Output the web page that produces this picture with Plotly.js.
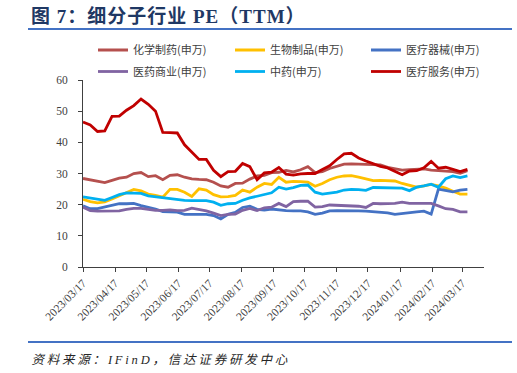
<!DOCTYPE html>
<html><head><meta charset="utf-8">
<script src="https://cdn.plot.ly/plotly-3.0.1.min.js"></script>
<style>
html,body{margin:0;padding:0;background:#fff}
#wrap{position:relative;width:517px;height:373px}
#chart{width:517px;height:373px}
#chart .gtitle{letter-spacing:1px}
#chart .annotation-text{letter-spacing:2.8px}
.rule{position:absolute;left:28px;width:484px;height:2px;background:#4472C4;z-index:5}
</style>
</head><body><div id="wrap"><div id="chart"></div><div class="rule" style="top:27.5px"></div><div class="rule" style="top:341px"></div></div>
<script>
const dates = ["2023-03-17","2023-03-24","2023-03-31","2023-04-07","2023-04-14","2023-04-21","2023-04-28","2023-05-05","2023-05-12","2023-05-19","2023-05-26","2023-06-02","2023-06-09","2023-06-16","2023-06-23","2023-06-30","2023-07-07","2023-07-14","2023-07-21","2023-07-28","2023-08-04","2023-08-11","2023-08-18","2023-08-25","2023-09-01","2023-09-08","2023-09-15","2023-09-22","2023-09-29","2023-10-06","2023-10-13","2023-10-20","2023-10-27","2023-11-03","2023-11-10","2023-11-17","2023-11-24","2023-12-01","2023-12-08","2023-12-15","2023-12-22","2023-12-29","2024-01-05","2024-01-12","2024-01-19","2024-01-26","2024-02-02","2024-02-09","2024-02-16","2024-02-23","2024-03-01","2024-03-08","2024-03-15","2024-03-22"];
const chemPharma = [28.4,28.0,27.6,27.1,27.8,28.5,28.8,30.0,30.3,29.0,29.3,28.0,29.4,29.6,28.8,28.3,28.1,28.0,27.2,26.0,25.6,26.8,26.9,28.2,29.2,29.4,30.3,30.4,31.0,30.5,31.2,32.2,30.3,30.6,31.6,32.4,33.0,33.1,33.0,33.0,33.0,32.8,32.0,31.6,31.1,31.2,31.3,31.5,31.1,31.0,30.8,30.6,30.1,30.9];
const bioProducts = [21.7,21.0,20.6,20.9,21.8,22.8,23.9,24.9,24.4,23.4,23.0,22.4,24.9,24.9,24.0,22.6,25.1,24.7,23.2,22.5,22.6,23.0,24.7,24.0,25.6,26.8,26.5,28.8,27.2,27.5,27.4,27.2,25.9,26.8,28.0,28.8,29.2,29.3,28.8,28.3,27.7,27.8,27.7,27.6,26.8,26.3,25.6,26.0,26.5,26.0,25.3,24.3,23.4,23.4];
const medDevices = [19.6,18.7,18.7,19.2,19.8,20.3,20.3,20.4,19.7,19.2,18.6,17.8,17.8,17.6,16.9,16.9,17.1,16.9,16.5,15.4,16.9,17.5,19.1,19.5,18.5,18.3,18.6,18.3,18.1,18.0,18.0,17.7,16.9,17.3,18.0,18.1,18.1,18.2,18.0,17.9,17.7,17.6,17.4,16.9,17.2,17.6,17.7,17.9,17.0,25.0,24.6,24.1,24.7,24.9];
const medCommerce = [19.2,18.1,17.9,18.0,18.0,18.0,18.5,18.8,18.8,18.5,18.2,18.2,18.3,18.1,18.2,18.9,18.5,18.0,17.3,16.5,16.9,17.0,18.2,18.8,18.1,19.0,19.2,20.4,19.4,21.0,21.1,21.1,19.2,19.4,19.9,19.8,19.8,19.8,19.5,19.1,20.4,20.3,20.3,20.4,20.8,20.4,20.4,20.4,20.4,19.6,18.7,18.5,17.7,17.7];
const tcm = [22.5,22.1,21.7,21.4,22.3,23.2,23.8,23.8,23.6,22.8,22.5,22.1,21.8,21.6,21.4,21.3,21.3,21.3,20.8,19.8,20.3,20.4,21.4,22.2,22.7,23.2,23.8,25.6,25.0,25.5,26.2,26.3,24.0,23.4,23.6,24.0,24.7,24.9,24.8,24.6,25.5,25.4,25.5,25.3,25.3,24.5,25.6,26.0,26.6,25.6,28.3,29.2,28.7,29.2];
const medServices = [46.5,45.6,43.5,43.7,48.3,48.4,50.3,51.8,53.9,52.2,50.0,43.2,43.1,43.0,39.2,36.8,34.5,34.5,31.0,29.0,30.6,30.7,33.2,32.2,28.0,30.2,30.4,31.9,29.8,29.5,29.9,30.0,30.0,31.3,32.5,34.5,36.3,36.5,35.0,34.0,33.2,32.3,31.8,30.8,29.6,30.8,30.9,31.8,33.9,31.7,32.0,31.3,30.6,31.3];
const seriesNames = ["化学制药(申万)","生物制品(申万)","医疗器械(申万)","医药商业(申万)","中药(申万)","医疗服务(申万)"];
const seriesColors = ["#B5504E","#FFC000","#4472C4","#8064A2","#00B0F0","#C00000"];
const tickDates = ["2023-03-17","2023-04-17","2023-05-17","2023-06-17","2023-07-17","2023-08-17","2023-09-17","2023-10-17","2023-11-17","2023-12-17","2024-01-17","2024-02-17","2024-03-17"];
const tickLabels = ["2023/03/17","2023/04/17","2023/05/17","2023/06/17","2023/07/17","2023/08/17","2023/09/17","2023/10/17","2023/11/17","2023/12/17","2024/01/17","2024/02/17","2024/03/17"];

const W = 517, H = 373;
const allSeries = [chemPharma, bioProducts, medDevices, medCommerce, tcm, medServices];
const legendIds = ["legend","legend2","legend3","legend4","legend5","legend6"];
const traces = allSeries.map((ys, i) => ({
  x: dates, y: ys, type: "scatter", mode: "lines", name: seriesNames[i],
  legend: legendIds[i],
  line: {color: seriesColors[i], width: 2.8}
}));

const legX = [93, 230, 366];
const legY = [50, 71.5];
function legendBox(i) {
  const col = i % 3, row = Math.floor(i / 3);
  return {xref: "container", yref: "container", x: legX[col] / W, y: 1 - legY[row] / H,
    xanchor: "left", yanchor: "middle", itemwidth: 30, bgcolor: "rgba(0,0,0,0)", borderwidth: 0,
    font: {family: "Noto Sans CJK SC", size: 11, color: "#404040"}};
}

const layout = {
  width: W, height: H,
  margin: {l: 83, r: 33, t: 80, b: 106, autoexpand: false},
  paper_bgcolor: "#fff", plot_bgcolor: "#fff",
  showlegend: true,
  xaxis: {type: "date", range: ["2023-03-17", "2024-04-07"], tickvals: tickDates, ticktext: tickLabels,
    tickangle: -45, ticks: "outside", ticklen: 4, tickcolor: "#404040", showline: true, linecolor: "#404040", linewidth: 1,
    showgrid: false, zeroline: false, tickfont: {family: "Liberation Serif", size: 11.5, color: "#404040"}},
  yaxis: {range: [0, 60], tickvals: [0,10,20,30,40,50,60], ticks: "outside", ticklen: 4, tickcolor: "#404040",
    showline: true, linecolor: "#404040", linewidth: 1, showgrid: false, zeroline: false, ticklabelstandoff: 8,
    tickfont: {family: "Liberation Serif", size: 11.5, color: "#404040"}},
  title: {text: "<b>图 7：细分子行业 PE（TTM）</b>", x: 31/W, xanchor: "left", xref: "container", y: 1 - 16/H, yanchor: "middle", yref: "container",
    font: {family: "Liberation Serif, Noto Sans CJK SC", size: 19, color: "#1F3864"}},
  annotations: [
    {text: "<i>资料来源：IFinD，信达证券研发中心</i>", xref: "paper", yref: "paper", x: -26.7/401, y: -93/187, xanchor: "left", yanchor: "middle",
     showarrow: false, font: {family: "Liberation Serif, Noto Sans CJK SC", size: 12.5, color: "#262626"}}
  ]
};
legendIds.forEach((id, i) => { layout[id] = legendBox(i); });
Plotly.newPlot("chart", traces, layout, {staticPlot: true, displayModeBar: false});
</script></body></html>
